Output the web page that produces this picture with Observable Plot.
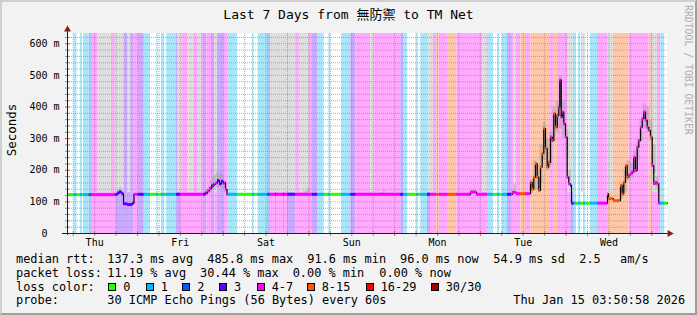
<!DOCTYPE html>
<html><head><meta charset="utf-8">
<script src="https://cdn.jsdelivr.net/npm/d3@7"></script>
<script src="https://cdn.jsdelivr.net/npm/@observablehq/plot@0.6"></script>
<style>
html,body{margin:0;padding:0;background:#fff;}
#chart{position:relative;width:697px;height:315px;background:#f2f2f2;overflow:hidden;font-family:"DejaVu Sans Mono","Noto Sans CJK TC",monospace;color:#000;}
#frame{position:absolute;left:0;top:0;width:697px;height:315px;box-sizing:border-box;border-top:2px solid #cfcfcf;border-left:2px solid #cfcfcf;border-right:2px solid #9e9e9e;border-bottom:2px solid #9e9e9e;pointer-events:none;}
#plot{position:absolute;left:0;top:0;}
.t{position:absolute;white-space:pre;font-size:11.9px;line-height:14px;}
.box{position:absolute;width:8px;height:8px;box-sizing:border-box;border:1px solid #000;}
</style>
</head><body>
<div id="chart">
  <div id="plot"></div>
  <div style="position:absolute;left:0;top:6.8px;width:697px;text-align:center;font-size:13px;line-height:16px;white-space:pre;">Last 7 Days from 無防禦 to TM Net</div>
  <div style="position:absolute;left:11px;top:130px;transform:translate(-50%,-50%) rotate(-90deg);font-size:12.5px;white-space:nowrap;">Seconds</div>
  <div style="position:absolute;left:683px;top:5px;writing-mode:vertical-rl;font-size:9.8px;line-height:10px;color:#b0b0b0;white-space:nowrap;">RRDTOOL / TOBI OETIKER</div>
  <div id="legend"></div>
  <div id="frame"></div>
</div>
<script>
// ---- data (x values are hours since the start of the 7-day window) ----
const dayLabels = ["Thu","Fri","Sat","Sun","Mon","Tue","Wed"];
const firstMidnight = 19.6;
const yMajor = [0,100,200,300,400,500,600];
const yTickLabels = ["0","100 m","200 m","300 m","400 m","500 m","600 m"];
const yTop = 632.5;

// loss background stripes: start time and loss bucket (0 none,1,2,3,4 = 4-7, 8 = 8-15)
const lossT = [0,1.88,2.66,3.64,4.2,4.48,6.08,6.72,13.52,18.68,19.8,21.48,23.24,25.0,25.4,26.32,27.24,27.8,30.52,31.64,38.08,39.0,40.32,41.24,42.0,43.88,45.0,47.6,51.8,52.28,53.4,56.0,56.84,58.24,58.52,60.48,60.76,61.6,63.92,68.6,70.0,71.88,73.16,73.64,76.72,79.32,80.72,93.32,94.08,95.2,97.8,98.2,98.92,100.8,101.64,103.4,104.08,106.6,109.0,117.6,119.28,120.4,120.96,121.8,123.2,124.32,126.92,128.24,129.72,135.24,136.08,137.2,140.92,141.88,142.52,143.08,143.72,144.48,145.04,146.44,148.4,151.2,157.28,162.88,163.8,166.12,167.24];
const lossB = [0,1,0,1,0,1,2,4,3,4, 3,1,0,1,0,1,0,1,3,4, 3,4,3,4,3,4,1,0,1,0, 1,2,4,3,4,3,4,3,4,3, 1,0,1,0,1,3,4,3,1,0, 1,0,1,3,4,8,4,8,4,1, 0,1,0,1,3,4,8,4,8,4, 8,4,3,1,0,1,0,1,0,1, 4,8,4,8,4,1,0];

// smoke reaching the top of the graph
const grayX1 = [8.4,13.24,16.8,30.8,33.6,36.4,41.24,56.84,64.88,84.84,100.8,116.12,124.88,140.0,143.92,151.2,163.8];
const grayX2 = [12.32,15.88,17.72,32.2,35.48,37.8,42.0,63.92,67.68,85.96,102.48,117.52,125.72,141.68,145.04,152.88,165.2];
const grayFrom = 130;

// median rtt (ms), step series
const medT = [0,14.0,14.56,15.12,15.54,15.68,16.8,18.2,18.62,38.64,39.2,39.76,40.32,40.88,41.44,42.0,42.56,43.12,43.68,44.24,44.66,112.84,114.52,124.6,125.72,129.64,130.12,130.56,131.04,131.52,131.96,132.44,132.92,133.36,133.84,134.32,134.76,135.24,135.72,136.16,136.64,137.12,137.56,137.84,138.24,138.52,138.96,139.44,139.92,140.36,140.84,141.12,151.2,151.48,152.88,154.84,155.32,155.76,156.24,156.72,157.16,157.64,158.12,158.56,159.04,159.52,159.96,160.44,160.92,161.36,161.84,162.32,162.76,163.24,163.72,164.16,164.64,165.12,165.56];
const medV = [123,128,132,128,125,94,91.6,96,124,128,135,142,150,155,160,168,157,165,160,140,124,131,124,130,126,162,140,178,221,178,136,210,253,332,269,210,225,305,294,379,336,373,400,485.8,368,384,347,305,178,157,152,96,125,110,104,152,125,162,215,178,185,189,195,241,199,273,294,336,363,384,358,336,326,305,215,157,162,157,96];

// smoke bands (group, time, low, high)
const smokeG = [1,1,1,1,1, 2,2,2,2,2,2,2,2,2,2,2,2,2, 3,3,3, 4,4,4, 5,5,5, 6,6,6, 7,7,7,7,7,7,7,7,7,7,7,7,7,7, 8,8,8,8,8,8,8,8,8,8,8,8,8];
const smokeT = [13.16,14.0,14.56,15.12,15.6, 38.36,38.92,39.48,40.04,40.6,41.16,41.72,42.28,42.84,43.4,43.96,44.52,44.8, 66.08,67.2,68.04, 87.64,88.5,89.04, 112.84,113.7,114.52, 124.32,125.0,125.72, 129.64,130.5,131.4,132.3,133.2,134.1,135.0,135.9,136.8,137.7,138.6,139.5,140.4,141.12, 154.84,155.8,156.7,157.6,158.5,159.4,160.3,161.2,162.1,163.0,163.9,164.8,165.56];
const smokeLo = [122,123,124,122,124, 122,122,125,130,135,140,145,145,145,140,130,124,124, 124,124,124, 124,124,124, 124,126,124, 124,126,124, 125,140,135,160,230,200,215,290,320,330,300,240,150,96, 110,130,165,175,190,230,290,330,320,290,190,140,96];
const smokeHi = [130,138,146,138,124, 128,140,150,165,175,185,195,190,195,185,165,140,124, 134,142,124, 130,136,124, 136,140,124, 140,155,124, 170,230,215,280,350,300,320,400,420,500,420,330,200,96, 160,200,230,220,260,300,360,410,400,360,280,180,96];

// ---- styles ----
const stripeColor = {1:"#a9e6fa",2:"#aac6ff",3:"#cbaaff",4:"#ffaaff",8:"#ffc7aa",16:"#ffaaaa",30:"#dcaaaa"};
const lineColor = {0:"#26ff00",1:"#00b8ff",2:"#0059ff",3:"#5e00ff",4:"#ff00ff",8:"#ff5500",16:"#ff0000",30:"#a10000"};
const GRID = "#8f8f8f", MGRID = "#de4f4f", ARROW = "#801f1f", AXIS = "#1f1f1f";

// ---- derived tables ----
const stripes = lossT.map((t,i) => ({x1: t, x2: i+1 < lossT.length ? lossT[i+1] : 168, b: lossB[i]}));
const grays = grayX1.map((x,i) => ({x1: x, x2: grayX2[i]}));
const med = medT.map((t,i) => ({t, v: medV[i]}));
const medLine = med.concat([{t: 168, v: medV[medV.length-1]}]);
const segs = [];
med.forEach((m,i) => {
  const a = m.t, b = i+1 < med.length ? med[i+1].t : 168;
  stripes.forEach(s => {
    const lo = Math.max(a, s.x1), hi = Math.min(b, s.x2);
    if (hi > lo) segs.push({x1: lo, x2: hi, y: m.v, b: s.b});
  });
});
const smoke = smokeT.map((t,i) => ({g: smokeG[i], t, lo: smokeLo[i], hi: smokeHi[i]}));
const midnights = d3.range(0,7).map(k => firstMidnight + 24*k);
const noons = dayLabels.map((d,k) => firstMidnight - 12 + 24*k);
const sixH = d3.range(-3, 28).filter(k => k % 4 !== 0).map(k => firstMidnight + 6*k).filter(h => h > 0 && h < 168);
const yMinor = d3.range(20, yTop, 20).filter(v => v % 100 !== 0);

const chart = Plot.plot({
  width: 697, height: 250,
  marginLeft: 67, marginRight: 30, marginTop: 33, marginBottom: 17,
  x: {domain: [0,168], axis: null},
  y: {domain: [0,yTop], axis: null},
  color: {type: "identity"},
  style: {background: "transparent", fontFamily: "DejaVu Sans Mono", fontSize: "10px", color: "#000", overflow: "visible"},
  marks: [
    Plot.rect([0], {x1: 0, x2: 168, y1: 0, y2: yTop, fill: "#fff"}),
    Plot.rect(stripes.filter(s => s.b > 0), {x1: "x1", x2: "x2", y1: 0, y2: yTop, fill: d => stripeColor[d.b]}),
    Plot.rect(grays, {x1: "x1", x2: "x2", y1: grayFrom, y2: yTop, fill: "#dedede"}),
    Plot.ruleY(yMinor, {stroke: GRID, strokeOpacity: 0.75, strokeDasharray: "1,1"}),
    Plot.ruleX(sixH, {stroke: GRID, strokeOpacity: 0.75, strokeDasharray: "1,1"}),
    Plot.ruleY(yMajor.slice(1), {stroke: MGRID, strokeOpacity: 0.6, strokeDasharray: "1,1"}),
    Plot.ruleX(midnights, {stroke: MGRID, strokeOpacity: 0.6, strokeDasharray: "1,1"}),
    Plot.areaY(smoke, {x: "t", y1: "lo", y2: "hi", z: "g", curve: "step-after", fill: "#9a9a9a", fillOpacity: 0.4}),
    Plot.line(medLine, {x: "t", y: "v", curve: "step-after", stroke: "#000", strokeWidth: 1.2}),
    Plot.ruleY(segs, {y: "y", x1: "x1", x2: "x2", stroke: d => lineColor[d.b], strokeWidth: 3}),
    // axes
    Plot.ruleY(yMinor, {x1: -0.56, x2: 0.84, stroke: GRID}),
    Plot.ruleY(yMajor, {x1: -0.56, x2: 0.84, stroke: MGRID}),
    Plot.ruleX(sixH, {y1: -9.5, y2: 6.3, stroke: GRID}),
    Plot.ruleX(midnights, {y1: -9.5, y2: 6.3, stroke: MGRID}),
    Plot.ruleY([0], {x1: -1.4, x2: 168.6, stroke: AXIS}),
    Plot.ruleX([0], {y1: -6, y2: 644, stroke: AXIS}),
    Plot.dot([0], {x: 0, y: 645, symbol: "triangle", r: 2.6, fill: ARROW, stroke: "none"}),
    Plot.dot([0], {x: 168.6, y: 0, symbol: "triangle", r: 2.6, rotate: 90, fill: ARROW, stroke: "none"}),
    Plot.text(yMajor, {x: 0, y: d => d, text: (d,i) => yTickLabels[i] === "0" ? "0\u00a0\u00a0" : yTickLabels[i], textAnchor: "end", dx: -8, fill: "#000"}),
    Plot.text(noons, {x: d => d, y: 0, text: (d,i) => dayLabels[i], dy: 9.7, fill: "#000"})
  ]
});
document.getElementById("plot").appendChild(chart);

// ---- legend ----
const legendRows = [
  {top: 252.2, items: [[16,"median rtt:"],[107.3,"137.3 ms avg"],[207.3,"485.8 ms max"],[307.3,"91.6 ms min"],[400,"96.0 ms now"],[493.3,"54.9 ms sd"],[579.3,"2.5"],[620,"am/s"]]},
  {top: 265.6, items: [[16,"packet loss:"],[107.3,"11.19 % avg"],[200,"30.44 % max"],[292.7,"0.00 % min"],[379.3,"0.00 % now"]]},
  {top: 279.6, items: [[16,"loss color:"]]},
  {top: 293.2, items: [[16,"probe:"],[107.3,"30 ICMP Echo Pings (56 Bytes) every 60s"],[513.3,"Thu Jan 15 03:50:58 2026"]]}
];
const lossLegendLabels = ["0","1","2","3","4-7","8-15","16-29","30/30"];
const lossLegendKeys = [0,1,2,3,4,8,16,30];
const lossLegendX = [108.3,145.7,182.3,219,256.7,306.7,365.7,430.7];
const leg = document.getElementById("legend");
legendRows.forEach(r => r.items.forEach(([x, s]) => {
  const d = document.createElement("div");
  d.className = "t"; d.style.left = x + "px"; d.style.top = r.top + "px"; d.textContent = s;
  leg.appendChild(d);
}));
lossLegendLabels.forEach((lab, i) => {
  const b = document.createElement("div");
  b.className = "box"; b.style.left = lossLegendX[i] + "px"; b.style.top = "282.5px";
  b.style.background = lineColor[lossLegendKeys[i]];
  leg.appendChild(b);
  const d = document.createElement("div");
  d.className = "t"; d.style.left = (lossLegendX[i] + 15) + "px"; d.style.top = "279.6px"; d.textContent = lab;
  leg.appendChild(d);
});
</script>
</body></html>
